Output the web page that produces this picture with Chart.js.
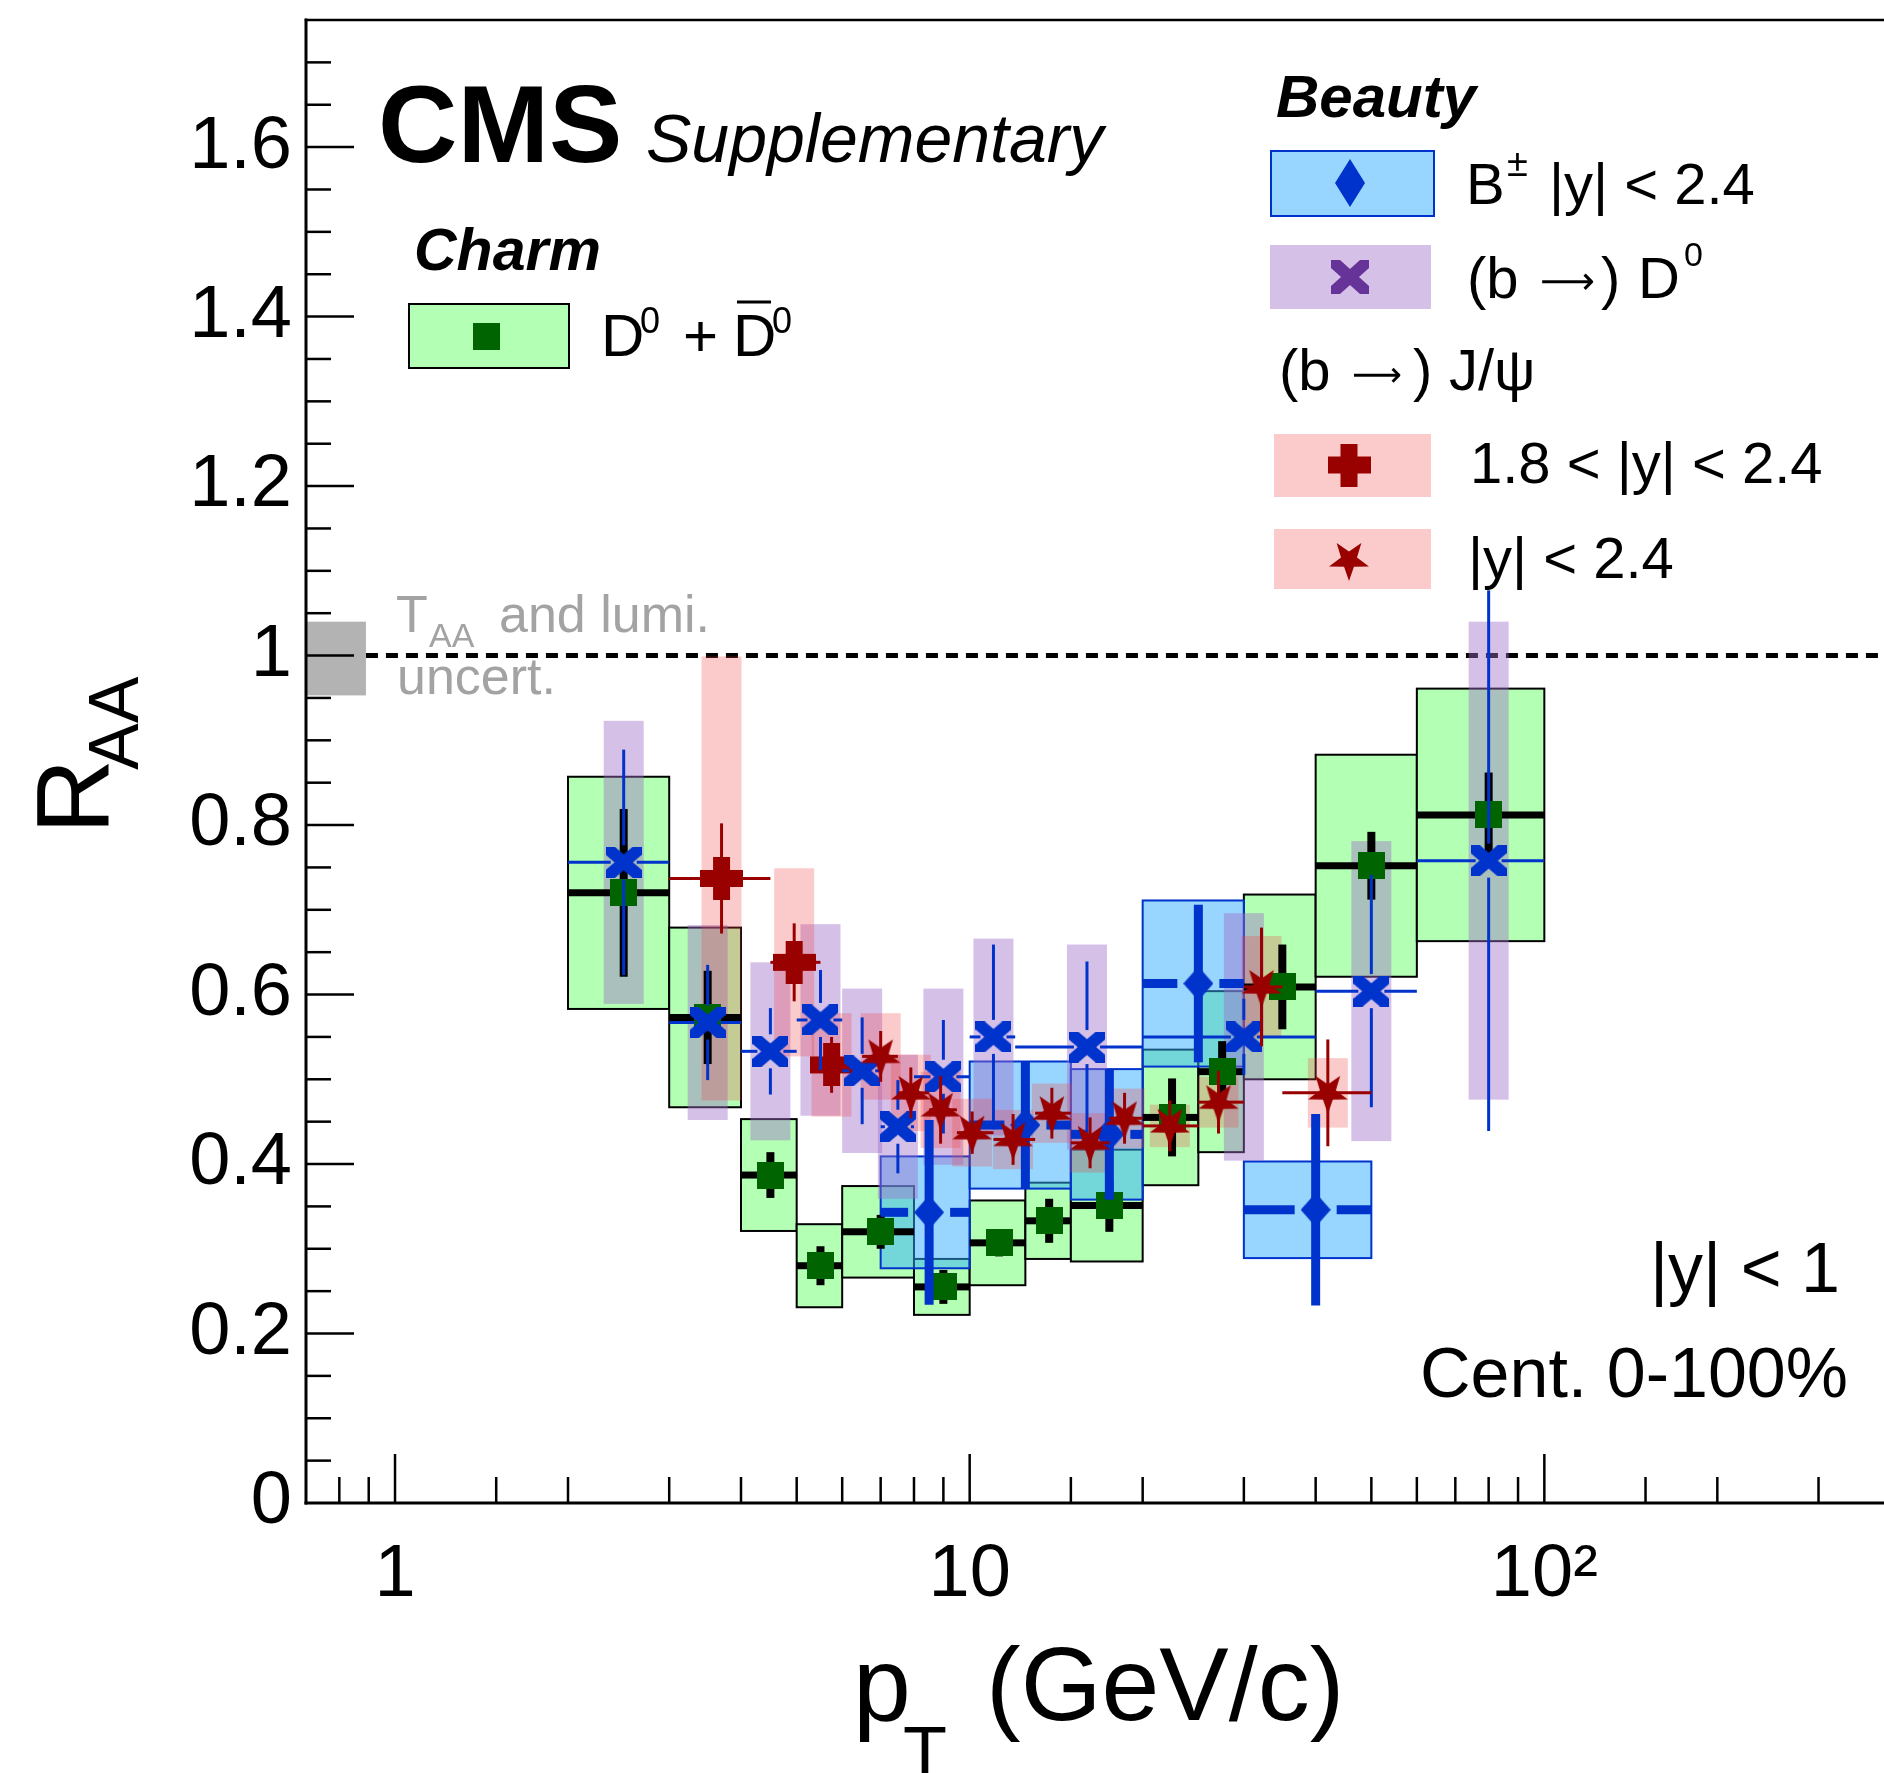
<!DOCTYPE html>
<html>
<head>
<meta charset="utf-8">
<script src="https://cdn.jsdelivr.net/npm/chart.js@4.4.0/dist/chart.umd.min.js"></script>
<style>
html,body{margin:0;padding:0;background:#fff;overflow:hidden}
canvas{display:block}
</style>
</head>
<body>
<canvas id="c" width="1884" height="1773"></canvas>
<script>
// ---------------- axis / tick data ----------------
const xMin = 0.7, xMax = 390;
const yMin = 0, yMax = 1.75;
const xTickValues = [1, 10, 100];
const xTickText = ['1', '10', '10\u00B2'];
const yTickValues = [0, 0.2, 0.4, 0.6, 0.8, 1.0, 1.2, 1.4, 1.6];
const yTickText = ['0', '0.2', '0.4', '0.6', '0.8', '1', '1.2', '1.4', '1.6'];
const yMinorStep = 0.05;

// TAA and lumi. uncertainty band
const taaX = [0.7, 0.89];
const taaY = [0.953, 1.040];

// ---------------- Charm: D0 + D0bar (|y|<1) ----------------
const d0Pt   = [2.5, 3.5, 4.5, 5.5, 7, 9, 11.25, 13.75, 17.5, 22.5, 27.5, 35, 50, 80];
const d0Lo   = [2, 3, 4, 5, 6, 8, 10, 12.5, 15, 20, 25, 30, 40, 60];
const d0Hi   = [3, 4, 5, 6, 8, 10, 12.5, 15, 20, 25, 30, 40, 60, 100];
const d0R    = [0.720, 0.573, 0.387, 0.280, 0.320, 0.255, 0.307, 0.333, 0.351, 0.455, 0.509, 0.609, 0.752, 0.812];
const d0Stat = [0.099, 0.055, 0.027, 0.023, 0.020, 0.020, 0.016, 0.026, 0.031, 0.046, 0.036, 0.050, 0.040, 0.050];
const d0Syst = [0.137, 0.106, 0.066, 0.049, 0.054, 0.033, 0.050, 0.045, 0.066, 0.080, 0.095, 0.109, 0.131, 0.149];

// ---------------- Beauty: B+- |y|<2.4 ----------------
const bPt   = [8.5, 12.5, 17.5, 25, 40];
const bLo   = [7, 10, 15, 20, 30];
const bHi   = [10, 15, 20, 30, 50];
const bR    = [0.343, 0.446, 0.435, 0.613, 0.346];
const bStat = [0.109, 0.075, 0.077, 0.093, 0.113];
const bSyst = [0.066, 0.075, 0.077, 0.098, 0.057];

// ---------------- Beauty: (b->) D0 ----------------
const npPt   = [2.5, 3.5, 4.5, 5.5, 6.5, 7.5, 9, 11, 16, 30, 50, 80];
const npLo   = [2, 3, 4, 5, 6, 7, 8, 10, 12, 20, 40, 60];
const npHi   = [3, 4, 5, 6, 7, 8, 10, 12, 20, 40, 60, 100];
const npR    = [0.756, 0.567, 0.533, 0.570, 0.510, 0.444, 0.503, 0.550, 0.538, 0.550, 0.604, 0.758];
const npStat = [0.133, 0.068, 0.051, 0.059, 0.063, 0.055, 0.067, 0.109, 0.101, 0.045, 0.137, 0.319];
const npSyst = [0.167, 0.115, 0.105, 0.113, 0.097, 0.085, 0.104, 0.116, 0.121, 0.146, 0.177, 0.282];

// ---------------- Beauty: (b->) J/psi 1.8<|y|<2.4 ----------------
const jfPt   = [3.7, 4.95, 5.75];
const jfLo   = [3, 4.5, 5.5];
const jfHi   = [4.5, 5.5, 6.5];
const jfR    = [0.737, 0.638, 0.517];
const jfStat = [0.065, 0.046, 0.033];
const jfSyst = [0.262, 0.111, 0.061];

// ---------------- Beauty: (b->) J/psi |y|<2.4 ----------------
const jaPt   = [7.0, 7.9, 8.9, 10.1, 11.9, 13.9, 16.2, 18.6, 22.3, 27.1, 32.2, 42.0];
const jaLo   = [6.5, 7.5, 8.5, 9.5, 11, 13, 15, 17.5, 20, 25, 30, 35];
const jaHi   = [7.5, 8.5, 9.5, 11, 13, 15, 17.5, 20, 25, 30, 35, 50];
const jaR    = [0.527, 0.484, 0.464, 0.437, 0.429, 0.460, 0.425, 0.454, 0.445, 0.473, 0.609, 0.484];
const jaStat = [0.030, 0.030, 0.040, 0.025, 0.030, 0.030, 0.030, 0.030, 0.030, 0.037, 0.070, 0.063];
const jaSyst = [0.051, 0.045, 0.045, 0.040, 0.035, 0.035, 0.035, 0.035, 0.025, 0.030, 0.060, 0.041];

// ---------------- styles ----------------
const FONT = '"Liberation Sans", Arial, Helvetica, sans-serif';
const COL = {
  dgreen: '#006400', blue: '#0033cc', purple: '#663399', dred: '#990000',
  greenFill: '#b3ffb3', blueFill: 'rgba(51,173,255,0.5)', purpleFill: 'rgba(158,109,202,0.43)',
  pinkFill: 'rgba(240,70,70,0.28)', gray: '#b3b3b3', grayText: '#a3a3a3'
};

function mk(w, h, fn) { const c = document.createElement('canvas'); c.width = w; c.height = h; fn(c.getContext('2d'), w, h); return c; }
const sqMark = (s, col) => mk(s, s, g => { g.fillStyle = col; g.fillRect(0, 0, s, s); });
const diaMark = (w, h, col) => mk(w, h, g => { g.fillStyle = col; g.beginPath(); g.moveTo(w/2, 0); g.lineTo(w, h/2); g.lineTo(w/2, h); g.lineTo(0, h/2); g.closePath(); g.fill(); });
const xMark = (w, h, lw, col) => mk(w, h, g => { g.strokeStyle = col; g.lineWidth = lw; g.beginPath(); g.moveTo(0, 0); g.lineTo(w, h); g.moveTo(w, 0); g.lineTo(0, h); g.stroke(); });
const plusMark = (s, t, col) => mk(s, s, g => { g.fillStyle = col; const o = (s - t) / 2; g.fillRect(0, o, s, t); g.fillRect(o, 0, t, s); });
const starMark = (s, col) => mk(s, s, g => {
  g.fillStyle = col; g.beginPath(); const c = s/2, R = s/2, r = s*0.2;
  for (let k = 0; k < 10; k++) { const a = Math.PI/2 + k*Math.PI/5; const rr = k % 2 ? r : R; const px = c + rr*Math.cos(a), py = c + rr*Math.sin(a); if (k) g.lineTo(px, py); else g.moveTo(px, py); }
  g.closePath(); g.fill();
});

const M = {
  d0: sqMark(27, COL.dgreen),
  b: diaMark(30, 34, COL.blue),
  np: xMark(36, 31, 12, COL.blue),
  jf: plusMark(43, 17, COL.dred),
  ja: starMark(42, COL.dred),
  legB: diaMark(30, 48, COL.blue),
  legNp: xMark(38, 34, 12, COL.purple)
};

const pts = (xs, ys) => xs.map((x, i) => ({ x: x, y: ys[i] }));

const datasets = [
  { label: '(b\u2192) J/\u03C8 |y|<2.4', data: pts(jaPt, jaR), pointStyle: M.ja, pointRadius: 10,
    err: { lo: jaLo, hi: jaHi, stat: jaStat, col: COL.dred, hlw: 3, vlw: 3, gapX: 0, gapY: 0 } },
  { label: '(b\u2192) D0', data: pts(npPt, npR), pointStyle: M.np, pointRadius: 10,
    err: { lo: npLo, hi: npHi, stat: npStat, col: COL.blue, hlw: 3, vlw: 3, gapX: 13, gapY: 17 } },
  { label: '(b\u2192) J/\u03C8 1.8<|y|<2.4', data: pts(jfPt, jfR), pointStyle: M.jf, pointRadius: 10,
    err: { lo: jfLo, hi: jfHi, stat: jfStat, col: COL.dred, hlw: 3, vlw: 3, gapX: 0, gapY: 0 } },
  { label: 'B\u00B1', data: pts(bPt, bR), pointStyle: M.b, pointRadius: 10,
    err: { lo: bLo, hi: bHi, stat: bStat, col: COL.blue, hlw: 9, vlw: 9, gapX: 21, gapY: 0 } },
  { label: 'D0', data: pts(d0Pt, d0R), pointStyle: M.d0, pointRadius: 10,
    err: { lo: d0Lo, hi: d0Hi, stat: d0Stat, col: '#000', hlw: 7, vlw: 8, gapX: 0, gapY: 0 } }
];

function seg(ctx, x1, y1, x2, y2) { ctx.beginPath(); ctx.moveTo(x1, y1); ctx.lineTo(x2, y2); ctx.stroke(); }
function clipArea(ctx, a) { ctx.beginPath(); ctx.rect(a.left, a.top, a.right - a.left, a.bottom - a.top); ctx.clip(); }

function drawBoxes(chart, xs, lo, hi, R, syst, fill, stroke, halfPx) {
  const ctx = chart.ctx, sx = chart.scales.x, sy = chart.scales.y;
  xs.forEach((x, i) => {
    let x1, x2;
    if (halfPx) { const c = sx.getPixelForValue(x); x1 = c - halfPx; x2 = c + halfPx; }
    else { x1 = sx.getPixelForValue(lo[i]); x2 = sx.getPixelForValue(hi[i]); }
    const y1 = sy.getPixelForValue(R[i] + syst[i]), y2 = sy.getPixelForValue(R[i] - syst[i]);
    ctx.fillStyle = fill; ctx.fillRect(x1, y1, x2 - x1, y2 - y1);
    if (stroke) { ctx.strokeStyle = stroke; ctx.lineWidth = 2; ctx.strokeRect(x1, y1, x2 - x1, y2 - y1); }
  });
}

function txt(ctx, s, x, y, size, opt) {
  opt = opt || {};
  ctx.font = (opt.style || '') + ' ' + (opt.weight || '') + ' ' + size + 'px ' + (opt.family || FONT);
  ctx.fillStyle = opt.color || '#000';
  ctx.textAlign = opt.align || 'left';
  ctx.textBaseline = 'alphabetic';
  ctx.fillText(s, x, y);
  return ctx.measureText(s).width;
}
function img(ctx, c, x, y) { ctx.drawImage(c, x - c.width/2, y - c.height/2); }
// "(b -> )" prefix with a long thin arrow, as in the ROOT legend
function bArrow(ctx, x0, y, size, arrowLen) {
  txt(ctx, '(b', x0, y, size);
  const fam = '"DejaVu Sans", sans-serif';
  ctx.font = '100px ' + fam;
  const w100 = ctx.measureText('\u27F6').width || 100;
  const fs = 100 * arrowLen / w100;
  txt(ctx, '\u27F6', x0 + 73, y - 4, fs, { family: fam });
  txt(ctx, ')', x0 + 134, y, size);
}

const raaPlugin = {
  id: 'raa',
  beforeDatasetsDraw(chart) {
    const ctx = chart.ctx, a = chart.chartArea, sx = chart.scales.x, sy = chart.scales.y;
    ctx.save(); clipArea(ctx, a);
    // dashed line at R_AA = 1
    ctx.strokeStyle = '#000'; ctx.lineWidth = 5; ctx.setLineDash([12, 8]);
    const y1 = sy.getPixelForValue(1);
    seg(ctx, sx.getPixelForValue(taaX[1]), y1, a.right, y1);
    ctx.setLineDash([]);
    // TAA & lumi band
    const gx1 = sx.getPixelForValue(taaX[0]), gx2 = sx.getPixelForValue(taaX[1]);
    const gy1 = sy.getPixelForValue(taaY[1]), gy2 = sy.getPixelForValue(taaY[0]);
    ctx.fillStyle = COL.gray; ctx.fillRect(gx1, gy1, gx2 - gx1, gy2 - gy1);
    // systematic boxes
    drawBoxes(chart, d0Pt, d0Lo, d0Hi, d0R, d0Syst, COL.greenFill, '#000', 0);
    drawBoxes(chart, bPt, bLo, bHi, bR, bSyst, COL.blueFill, COL.blue, 0);
    drawBoxes(chart, npPt, npLo, npHi, npR, npSyst, COL.purpleFill, null, 20);
    drawBoxes(chart, jfPt, jfLo, jfHi, jfR, jfSyst, COL.pinkFill, null, 20);
    drawBoxes(chart, jaPt, jaLo, jaHi, jaR, jaSyst, COL.pinkFill, null, 20);
    ctx.restore();
  },
  beforeDatasetDraw(chart, args) {
    const ds = chart.data.datasets[args.index]; const e = ds.err; if (!e) return;
    const ctx = chart.ctx, a = chart.chartArea, sx = chart.scales.x, sy = chart.scales.y;
    ctx.save(); clipArea(ctx, a);
    ctx.strokeStyle = e.col; ctx.lineCap = 'butt';
    ds.data.forEach((p, i) => {
      const px = sx.getPixelForValue(p.x), py = sy.getPixelForValue(p.y);
      const xl = sx.getPixelForValue(e.lo[i]), xh = sx.getPixelForValue(e.hi[i]);
      const yt = sy.getPixelForValue(p.y + e.stat[i]), yb = sy.getPixelForValue(p.y - e.stat[i]);
      ctx.lineWidth = e.hlw;
      if (px - e.gapX > xl) seg(ctx, xl, py, px - e.gapX, py);
      if (px + e.gapX < xh) seg(ctx, px + e.gapX, py, xh, py);
      ctx.lineWidth = e.vlw;
      if (py - e.gapY > yt) seg(ctx, px, yt, px, py - e.gapY);
      if (py + e.gapY < yb) seg(ctx, px, py + e.gapY, px, yb);
    });
    ctx.restore();
  },
  afterDraw(chart) {
    const ctx = chart.ctx, a = chart.chartArea, sx = chart.scales.x, sy = chart.scales.y;
    ctx.save();
    // frame
    ctx.strokeStyle = '#000'; ctx.lineCap = 'square';
    ctx.lineWidth = 3; seg(ctx, a.left, a.top, a.left, a.bottom); seg(ctx, a.left, a.bottom, a.right, a.bottom);
    ctx.lineWidth = 2.5; seg(ctx, a.left, a.top, a.right, a.top);
    ctx.lineCap = 'butt'; ctx.lineWidth = 2.5;
    sx.ticks.forEach(t => {
      const px = sx.getPixelForValue(t.value); if (px < a.left + 3 || px > a.right - 3) return;
      const lg = Math.log10(t.value); const major = Math.abs(lg - Math.round(lg)) < 1e-6;
      seg(ctx, px, a.bottom, px, a.bottom - (major ? 49 : 26));
    });
    sy.ticks.forEach(t => {
      const py = sy.getPixelForValue(t.value); if (py > a.bottom - 3 || py < a.top + 3) return;
      const major = yTickValues.some(v => Math.abs(v - t.value) < 1e-6);
      seg(ctx, a.left, py, a.left + (major ? 48 : 25), py);
    });
    // axis titles
    ctx.save(); ctx.translate(109, 834); ctx.rotate(-Math.PI/2);
    txt(ctx, 'R', 0, 0, 104); txt(ctx, 'AA', 64, 29, 70);
    ctx.restore();
    txt(ctx, 'p', 853, 1720, 104); txt(ctx, 'T', 903, 1777, 72); txt(ctx, '(GeV/c)', 986, 1720, 104);
    // TAA text
    txt(ctx, 'T', 396, 632, 52, { color: COL.grayText });
    txt(ctx, 'AA', 429, 647, 34, { color: COL.grayText });
    txt(ctx, 'and lumi.', 499, 632, 52, { color: COL.grayText });
    txt(ctx, 'uncert.', 397, 694, 52, { color: COL.grayText });
    // CMS label
    txt(ctx, 'CMS', 378, 162, 110, { weight: 'bold' });
    txt(ctx, 'Supplementary', 646, 162, 68, { style: 'italic' });
    // Charm legend
    txt(ctx, 'Charm', 414, 270, 59, { weight: 'bold', style: 'italic' });
    ctx.fillStyle = COL.greenFill; ctx.fillRect(409, 304, 160, 64);
    ctx.strokeStyle = '#000'; ctx.lineWidth = 2; ctx.strokeRect(409, 304, 160, 64);
    img(ctx, M.d0, 486, 336);
    txt(ctx, 'D', 601, 356, 60); txt(ctx, '0', 640, 333, 36);
    txt(ctx, '+', 683, 356, 60);
    txt(ctx, 'D', 733, 356, 60); txt(ctx, '0', 772, 333, 36);
    ctx.lineWidth = 3; seg(ctx, 737, 302, 771, 302);
    // Beauty legend
    txt(ctx, 'Beauty', 1276, 117, 60, { weight: 'bold', style: 'italic' });
    ctx.fillStyle = COL.blueFill; ctx.fillRect(1271, 151, 163, 65);
    ctx.strokeStyle = COL.blue; ctx.lineWidth = 2; ctx.strokeRect(1271, 151, 163, 65);
    img(ctx, M.legB, 1350, 183);
    txt(ctx, 'B', 1466, 204, 58); txt(ctx, '\u00B1', 1507, 176, 38); txt(ctx, '|y| < 2.4', 1549, 204, 58);
    ctx.fillStyle = COL.purpleFill; ctx.fillRect(1270, 245, 161, 64);
    img(ctx, M.legNp, 1350, 277);
    bArrow(ctx, 1467, 298, 58, 55); txt(ctx, 'D', 1638, 298, 58); txt(ctx, '0', 1684, 266, 34);
    bArrow(ctx, 1279, 390, 58, 50); txt(ctx, 'J/\u03C8', 1449, 390, 58);
    ctx.fillStyle = COL.pinkFill; ctx.fillRect(1274, 434, 157, 63);
    img(ctx, M.jf, 1349, 465);
    txt(ctx, '1.8 < |y| < 2.4', 1470, 483, 58);
    ctx.fillStyle = COL.pinkFill; ctx.fillRect(1274, 529, 157, 60);
    img(ctx, M.ja, 1349, 560);
    txt(ctx, '|y| < 2.4', 1468, 578, 58);
    // selection text
    txt(ctx, '|y| < 1', 1840, 1292, 70, { align: 'right' });
    txt(ctx, 'Cent. 0-100%', 1848, 1397, 70, { align: 'right' });
    ctx.restore();
  }
};

const chart = new Chart(document.getElementById('c'), {
  type: 'scatter',
  data: { datasets: datasets },
  options: {
    responsive: false, animation: false, devicePixelRatio: 1, events: [],
    layout: { autoPadding: false, padding: { top: 20, left: 0, right: 0, bottom: 0 } },
    plugins: { legend: { display: false }, tooltip: { enabled: false } },
    scales: {
      x: {
        type: 'logarithmic', position: 'bottom', min: xMin, max: xMax,
        grid: { display: false, drawTicks: false }, border: { display: false },
        ticks: {
          autoSkip: false, maxRotation: 0, minRotation: 0, padding: 28, color: '#000',
          font: { family: FONT, size: 74 },
          callback: (v) => { const k = xTickValues.findIndex(t => Math.abs(t - v) / t < 1e-6); return k >= 0 ? xTickText[k] : ''; }
        },
        afterFit: (s) => { s.height = 270; s.paddingLeft = 0; s.paddingRight = 0; }
      },
      y: {
        type: 'linear', min: yMin, max: yMax,
        grid: { display: false, drawTicks: false }, border: { display: false },
        ticks: {
          stepSize: yMinorStep, maxTicksLimit: 60, includeBounds: false, autoSkip: false, padding: 14, color: '#000',
          font: { family: FONT, size: 74 },
          callback: (v) => { const k = yTickValues.findIndex(t => Math.abs(t - v) < 1e-6); return k >= 0 ? yTickText[k] : ''; }
        },
        afterFit: (s) => { s.width = 306; s.paddingTop = 0; s.paddingBottom = 0; }
      }
    }
  },
  plugins: [raaPlugin]
});
</script>
</body>
</html>
